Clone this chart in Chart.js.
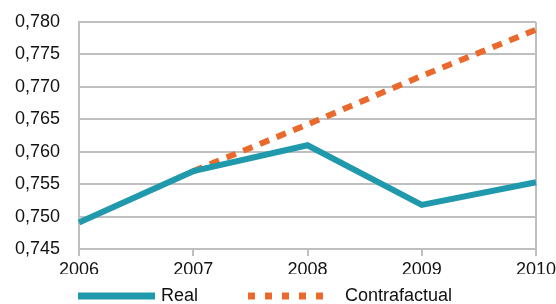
<!DOCTYPE html>
<html lang="pt-BR">
<head>
  <meta charset="UTF-8" />
  <title>Real x Contrafactual</title>
  <script src="https://cdn.jsdelivr.net/npm/chart.js"></script>
  <style>
    html, body { margin: 0; padding: 0; background: #fff; }
    #wrap { width: 556px; height: 304px; }
  </style>
</head>
<body>
  <div id="wrap"><canvas id="grafico" width="556" height="304"></canvas></div>

  <script>
    const anos = ['2006', '2007', '2008', '2009', '2010'];
    const real = [0.7491, 0.7570, 0.7610, 0.7518, 0.7553];
    const contrafactual = [null, 0.7570, 0.7642, 0.7717, 0.7788];
    const yMin = 0.745;
    const yMax = 0.780;
    const yPasso = 0.005;

    const corReal = '#2199ad';
    const corContra = '#e96a2c';
    const corGrade = '#bfbfc1';
    const fonte = { family: 'Liberation Sans', size: 18 };

    // legenda desenhada à mão, com traço de linha como no original
    const legendaPlugin = {
      id: 'legendaLinhas',
      afterDraw(chart) {
        const ctx = chart.ctx;
        const y = 296;
        const itens = [
          { x0: 78, x1: 155, tx: 161, cor: corReal, dash: [], texto: 'Real' },
          { x0: 248, x1: 333, tx: 345, cor: corContra, dash: [7, 10], texto: 'Contrafactual' }
        ];
        ctx.save();
        itens.forEach(it => {
          ctx.beginPath();
          ctx.setLineDash(it.dash);
          ctx.lineWidth = 7;
          ctx.strokeStyle = it.cor;
          ctx.moveTo(it.x0, y);
          ctx.lineTo(it.x1, y);
          ctx.stroke();
          ctx.setLineDash([]);
          ctx.fillStyle = '#111';
          ctx.font = fonte.size + 'px "' + fonte.family + '"';
          ctx.textBaseline = 'middle';
          ctx.fillText(it.texto, it.tx, y);
        });
        ctx.restore();
      }
    };

    new Chart(document.getElementById('grafico'), {
      type: 'line',
      data: {
        labels: anos,
        datasets: [
          {
            label: 'Real',
            data: real,
            borderColor: corReal,
            backgroundColor: corReal,
            borderWidth: 6,
            pointRadius: 0,
            tension: 0,
            order: 1
          },
          {
            label: 'Contrafactual',
            data: contrafactual,
            borderColor: corContra,
            backgroundColor: corContra,
            borderWidth: 6,
            borderDash: [10, 8],
            pointRadius: 0,
            tension: 0,
            order: 2
          }
        ]
      },
      options: {
        responsive: false,
        animation: false,
        devicePixelRatio: 1,
        layout: { padding: { top: 22, right: 20, bottom: 30, left: 0 } },
        plugins: {
          legend: { display: false },
          tooltip: { enabled: false }
        },
        scales: {
          x: {
            offset: false,
            grid: {
              color: c => c.index === anos.length - 1 ? corGrade : 'rgba(0,0,0,0)',
              tickColor: corGrade,
              tickLength: 7,
              lineWidth: 2
            },
            border: { display: true, color: corGrade, width: 2 },
            ticks: { color: '#111', font: fonte, padding: 3, maxRotation: 0, autoSkip: false },
            afterFit: s => { s.paddingLeft = 0; s.paddingRight = 0; s.height = 25; }
          },
          y: {
            min: yMin,
            max: yMax,
            grid: { color: corGrade, lineWidth: 2, drawTicks: false },
            border: { display: true, color: corGrade, width: 2 },
            ticks: {
              stepSize: yPasso,
              color: '#111',
              font: fonte,
              padding: 19,
              callback: v => v.toFixed(3).replace('.', ',')
            },
            afterFit: s => { s.width = 79; s.paddingTop = 0; s.paddingBottom = 0; }
          }
        }
      },
      plugins: [legendaPlugin]
    });
  </script>
</body>
</html>
